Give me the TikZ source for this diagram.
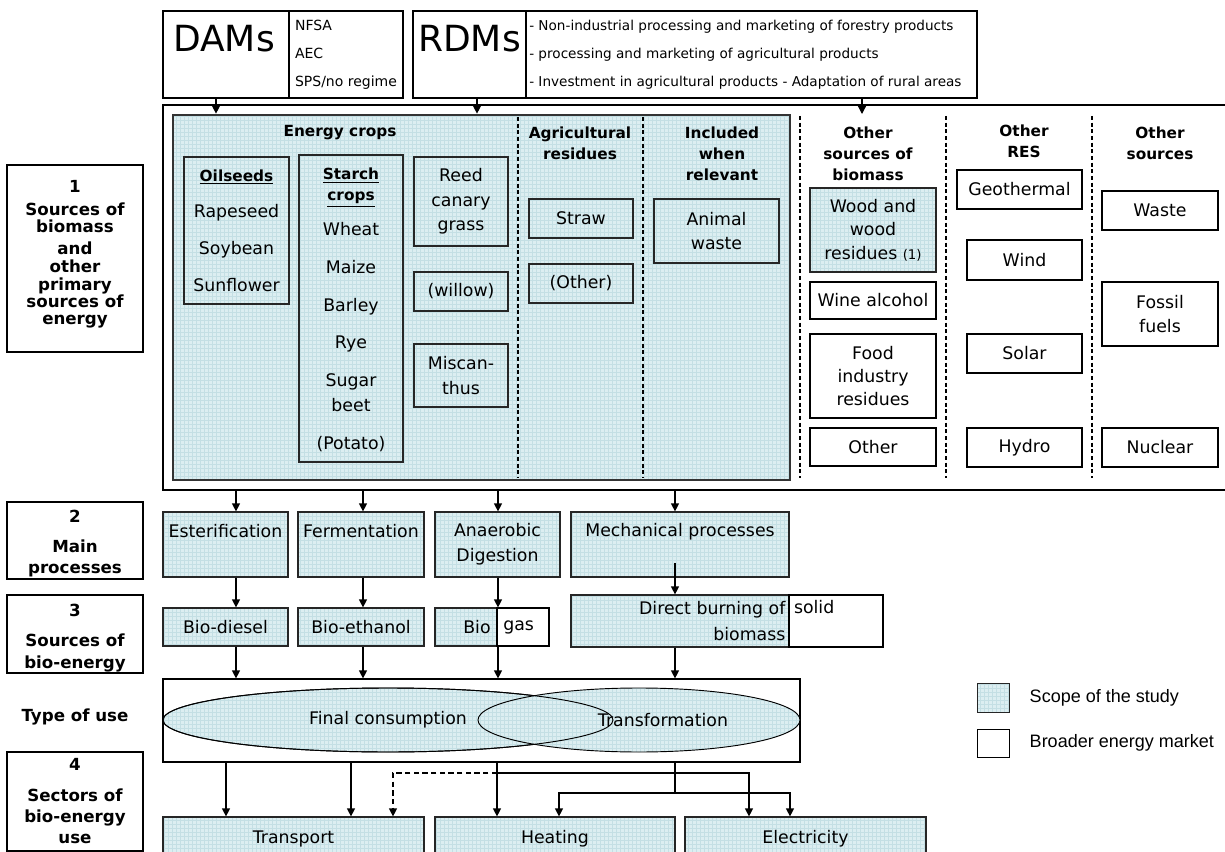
\documentclass[tikz,border=0pt]{standalone}
\usepackage{fontspec}
\setmainfont{DejaVu Sans}
\newfontfamily\legfont{Liberation Sans}
\usetikzlibrary{arrows.meta,fit,positioning,shapes.geometric,patterns}
\definecolor{scope}{HTML}{DCEEF1}
\definecolor{scopeln}{HTML}{C4DFE4}
\newcommand{\hdfont}{\fontsize{11.5}{15}\selectfont\bfseries}

\begin{document}
\begin{tikzpicture}[x=0.75pt, y=-0.75pt,
	every node/.style={inner sep=0pt},
	box/.style={draw, line width=0.9pt},
	scopebox/.style={box, draw=black!85, preaction={fill=scope}, pattern=grid, pattern color=scopeln},
	txt/.style={align=center, font=\fontsize{13}{18.5}\selectfont},
	head/.style={align=center, font=\fontsize{11.5}{15.75}\selectfont\bfseries},
	level/.style={align=center, font=\fontsize{12.5}{15.75}\selectfont\bfseries},
	arr/.style={-{Triangle[length=6pt,width=6pt]}, line width=0.9pt},
	sep/.style={dash pattern=on 3pt off 2pt, line width=0.9pt}]
\useasboundingbox (0,0) rectangle (1225,852);
\clip (0,0) rectangle (1225,852);

% measures
\node[box, fit={(163,11) (289,98)}] (damsL) {};
\node[anchor=north, font=\fontsize{27}{30}\selectfont] (damsT) at (224,25) {DAMs};
\node[box, fit={(289,11) (403,98)},
	label={[align=left, font=\fontsize{10.5}{21}\selectfont]center:NFSA\\AEC\\SPS/no regime}] (damsR) {};
\node[box, fit={(413,11) (526,98)}] (rdmsL) {};
\node[anchor=north, font=\fontsize{27}{30}\selectfont] (rdmsT) at (469.5,25) {RDMs};
\node[box, fit={(526,11) (977,98)}] (rdmsR) {};
\node[anchor=west, align=left, font=\fontsize{10.2}{21}\selectfont] (rdmsX) at (529,55)
	{- Non-industrial processing and marketing of forestry products\\- processing and marketing of agricultural products\\- Investment in agricultural products - Adaptation of rural areas};

% sources
\node[draw, line width=0.9pt, fit={(163,105) (1240,490)}] (src) {};
\node[scopebox, line width=2pt, draw=black!80, fit={(173,115) (790,480)}] (crops) {};
\foreach \x in {518,643} \draw[sep] (\x,117) -- (\x,478);
\foreach \x in {800,946,1092} \draw[sep] (\x,116) -- (\x,478);

\node[head] (hEc) at (340,133) {Energy crops};
\node[head] (hAg) at (580,143.5) {Agricultural\\residues};
\node[head] (hIn) at (722,154) {Included\\when\\relevant};
\node[head] (hOb) at (868,154) {Other\\sources of\\biomass};
\node[head] (hRes) at (1024,141) {Other\\RES};
\node[head] (hOs) at (1160,143.5) {Other\\sources};

\node[scopebox, fit={(184,157) (289,304)},
	label={[txt]center:{\hdfont\underline{Oilseeds}}\\[9pt]Rapeseed\\[9pt]Soybean\\[9pt]Sunflower}] (oil) {};
\node[scopebox, fit={(299,155) (403,462)},
	label={[txt, yshift=-1pt]center:{\hdfont\underline{Starch}}\\[-2.75pt]{\hdfont\underline{crops}}\\[7.75pt]Wheat\\[9.8pt]Maize\\[9.8pt]Barley\\[9.8pt]Rye\\[9.8pt]Sugar\\beet\\[10pt](Potato)}] (stch) {};
\node[scopebox, fit={(414,157) (508,246)}, label={[txt]center:Reed\\canary\\grass}] (reed) {};
\node[scopebox, fit={(414,272) (508,311)}, label={[txt]center:(willow)}] (wil) {};
\node[scopebox, fit={(414,344) (508,407)}, label={[txt]center:Miscan-\\thus}] (misc) {};
\node[scopebox, fit={(529,199) (633,238)}, label={[txt]center:Straw}] (straw) {};
\node[scopebox, fit={(529,264) (633,303)}, label={[txt]center:(Other)}] (aoth) {};
\node[scopebox, fit={(654,199) (779,263)}, label={[txt]center:Animal\\waste}] (anim) {};
\node[scopebox, fit={(810,188) (936,272)},
	label={[txt, font=\fontsize{13}{17.6}\selectfont]center:Wood and\\wood\\residues {\fontsize{10}{12}\selectfont(1)}}] (wood) {};
\node[box, fit={(810,282) (936,319)}, label={[txt]center:Wine alcohol}] (wine) {};
\node[box, fit={(810,334) (936,418)},
	label={[txt, font=\fontsize{13}{17}\selectfont]center:Food\\industry\\residues}] (food) {};
\node[box, fit={(810,428) (936,466)}, label={[txt]center:Other}] (othb) {};
\node[box, fit={(957,170) (1082,209)}, label={[txt]center:Geothermal}] (geo) {};
\node[box, fit={(967,240) (1082,280)}, label={[txt]center:Wind}] (wind) {};
\node[box, fit={(967,334) (1082,373)}, label={[txt]center:Solar}] (sol) {};
\node[box, fit={(967,428) (1082,467)}, label={[txt]center:Hydro}] (hyd) {};
\node[box, fit={(1102,191) (1218,230)}, label={[txt]center:Waste}] (wst) {};
\node[box, fit={(1102,282) (1218,346)}, label={[txt]center:Fossil\\fuels}] (fos) {};
\node[box, fit={(1102,428) (1218,467)}, label={[txt]center:Nuclear}] (nuc) {};

% processes and products
\node[scopebox, fit={(163,512) (288,577)}, label={[txt, anchor=center, yshift=-15pt]north:Esterification}] (ester) {};
\node[scopebox, fit={(298,512) (424,577)}, label={[txt, anchor=center, yshift=-15pt]north:Fermentation}] (ferm) {};
\node[scopebox, fit={(435,512) (560,577)}, label={[txt]center:Anaerobic\\Digestion}] (anae) {};
\node[scopebox, fit={(571,512) (789,577)}, label={[txt, anchor=center, yshift=-15pt]north:Mechanical processes}] (mech) {};
\node[scopebox, fit={(163,608) (288,646)}, label={[txt]center:Bio-diesel}] (bdsl) {};
\node[scopebox, fit={(298,608) (424,646)}, label={[txt]center:Bio-ethanol}] (beth) {};
\node[scopebox, fit={(435,608) (497,646)}, label={[txt, anchor=east, xshift=-5pt]east:Bio}] (biol) {};
\node[box, fit={(497,608) (549,646)}, label={[txt, anchor=west, xshift=5pt]west:gas}] (biog) {};
\node[scopebox, fit={(571,595) (789,647)},
	label={[txt, anchor=east, xshift=-3pt, align=right, font=\fontsize{13}{19.5}\selectfont]east:Direct burning of\\biomass}] (burnL) {};
\node[box, fit={(789,595) (883,647)},
	label={[txt, anchor=north west, xshift=4pt, yshift=-4pt]north west:solid}] (burnR) {};

% type of use
\node[box, fit={(163,679) (800,762)}] (typ) {};
\node[ellipse, draw, line width=0.7pt, preaction={fill=scope}, pattern=grid, pattern color=scopeln,
	minimum width=337.5pt, minimum height=48pt, font=\fontsize{13}{18.5}\selectfont] (fcon) at (388,720) {Final consumption};
\node[ellipse, draw, line width=0.7pt, preaction={fill=scope}, pattern=grid, pattern color=scopeln,
	minimum width=241.5pt, minimum height=48pt,
	label={[txt, xshift=18pt]center:Transformation}] (trans) at (639,720) {};
\draw[line width=0.7pt] (fcon.center) ellipse [x radius=225, y radius=32];

% sectors
\node[scopebox, fit={(163,817) (424,860)}, label={[txt]center:Transport}] (trsp) {};
\node[scopebox, fit={(435,817) (675,860)}, label={[txt]center:Heating}] (heat) {};
\node[scopebox, fit={(685,817) (926,860)}, label={[txt]center:Electricity}] (elec) {};

% levels
\node[box, fit={(7,165) (143,352)},
	label={[level, yshift=3pt, font=\fontsize{12.5}{13}\selectfont\bfseries]center:1\\[4.3pt]Sources of\\biomass\\[2.8pt]and\\[1.2pt]other\\primary\\sources of\\energy}] (lb1) {};
\node[box, fit={(7,502) (143,579)}, label={[level, yshift=-2.5pt]center:2\\[6.75pt]Main\\processes}] (lb2) {};
\node[box, fit={(7,595) (143,673)}, label={[level, yshift=-3pt]center:3\\[6.75pt]Sources of\\[0.75pt]bio-energy}] (lb3) {};
\node[level] (tou) at (75,717) {Type of use};
\node[box, fit={(7,752) (143,851)}, label={[level]center:4\\[7.5pt]Sectors of\\bio-energy\\use}] (lb4) {};

% legend
\node[scopebox, line width=0.7pt, fit={(977,683) (1009,712)}] (lg1) {};
\node[box, line width=0.7pt, fit={(977,729) (1009,757)}] (lg2) {};
\node[right=15pt of lg1, font=\legfont\fontsize{13.5}{16}\selectfont] (lt1) {Scope of the study};
\node[right=15pt of lg2, font=\legfont\fontsize{13.5}{16}\selectfont] (lt2) {Broader energy market};

% connectors
\coordinate (d1) at (216,0);
\coordinate (r1) at (477,0);
\coordinate (r2) at (862,114);
\coordinate (a1) at (236,0);
\coordinate (a2) at (363,0);
\coordinate (a3) at (498,0);
\coordinate (a4) at (675,0);
\coordinate (m1) at (675,563);
\coordinate (t1) at (226,0);
\coordinate (t2) at (351,0);
\coordinate (t3) at (393,0);
\coordinate (h1) at (497,773);
\coordinate (e1) at (749,0);
\coordinate (k1) at (675,793);
\coordinate (h2) at (559,0);
\coordinate (e2) at (790,0);

\draw[arr] (damsL.south -| d1) -- (crops.north -| d1);
\draw[arr] (rdmsL.south -| r1) -- (crops.north -| r1);
\draw[arr] (rdmsR.south -| r2) -- (r2);

\draw[arr] (src.south -| a1) -- (ester.north -| a1);
\draw[arr] (src.south -| a2) -- (ferm.north -| a2);
\draw[arr] (src.south -| a3) -- (anae.north -| a3);
\draw[arr] (src.south -| a4) -- (mech.north -| a4);
\draw[arr] (ester.south -| a1) -- (bdsl.north -| a1);
\draw[arr] (ferm.south -| a2) -- (beth.north -| a2);
\draw[arr] (anae.south -| a3) -- (biol.north -| a3);
\draw[arr] (m1) -- (burnL.north -| m1);
\draw[arr] (bdsl.south -| a1) -- (typ.north -| a1);
\draw[arr] (beth.south -| a2) -- (typ.north -| a2);
\draw[arr] (biol.south -| a3) -- (typ.north -| a3);
\draw[arr] (burnL.south -| a4) -- (typ.north -| a4);

\draw[arr] (typ.south -| t1) -- (trsp.north -| t1);
\draw[arr] (typ.south -| t2) -- (trsp.north -| t2);
\draw[arr] (typ.south -| h1) -- (heat.north -| h1);
\draw[arr, dash pattern=on 4pt off 2.5pt] (h1) -| (trsp.north -| t3);
\draw[arr] (h1) -| (elec.north -| e1);
\draw[line width=0.9pt] (typ.south -| k1) -- (k1);
\draw[arr] (k1) -| (heat.north -| h2);
\draw[arr] (k1) -| (elec.north -| e2);
\end{tikzpicture}
\end{document}
